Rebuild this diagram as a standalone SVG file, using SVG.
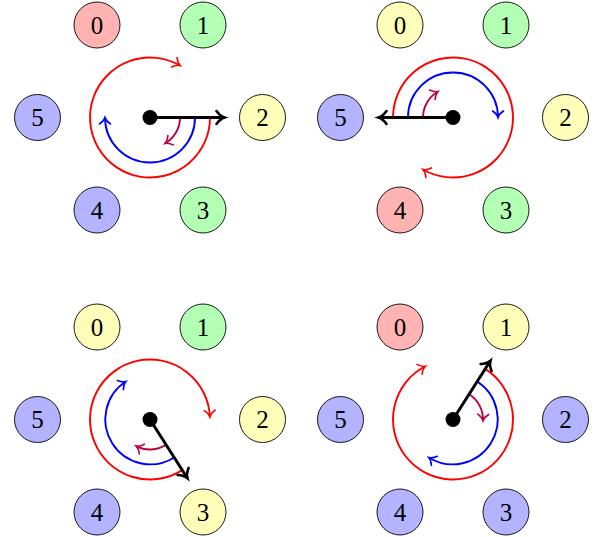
<svg xmlns="http://www.w3.org/2000/svg" width="597" height="537" viewBox="0 0 597 537">
<style>
.n circle{stroke:#000;stroke-width:0.9}
.n text{font-family:"Liberation Serif","DejaVu Serif",serif;font-size:25px;text-anchor:middle;fill:#000}
.R{fill:#ffb3b3}.G{fill:#b3ffb3}.B{fill:#b3b3ff}.Y{fill:#ffffb9}
.red{fill:none;stroke:#ff0000;stroke-width:1.9;marker-end:url(#mr)}
.blue{fill:none;stroke:#0000ff;stroke-width:1.9;marker-end:url(#mb)}
.pur{fill:none;stroke:#bf0040;stroke-width:1.9;marker-end:url(#mp)}
.arr{fill:none;stroke:#000;stroke-width:3;marker-end:url(#mk)}
.dot{fill:#000}
</style>
<defs>
<marker id="mr" markerUnits="userSpaceOnUse" orient="auto" overflow="visible" markerWidth="1" markerHeight="1"><path d="M-6.5,-5.5 C-4.5,-2.5 -2,-0.6 0,0 C-2,0.6 -4.5,2.5 -6.5,5.5" fill="none" stroke="#ff0000" stroke-width="1.6" stroke-linecap="round"/></marker>
<marker id="mb" markerUnits="userSpaceOnUse" orient="auto" overflow="visible" markerWidth="1" markerHeight="1"><path d="M-6.5,-5.5 C-4.5,-2.5 -2,-0.6 0,0 C-2,0.6 -4.5,2.5 -6.5,5.5" fill="none" stroke="#0000ff" stroke-width="1.6" stroke-linecap="round"/></marker>
<marker id="mp" markerUnits="userSpaceOnUse" orient="auto" overflow="visible" markerWidth="1" markerHeight="1"><path d="M-6.5,-5.5 C-4.5,-2.5 -2,-0.6 0,0 C-2,0.6 -4.5,2.5 -6.5,5.5" fill="none" stroke="#bf0040" stroke-width="1.6" stroke-linecap="round"/></marker>
<marker id="mk" markerUnits="userSpaceOnUse" orient="auto" overflow="visible" markerWidth="1" markerHeight="1"><path d="M-8,-6.5 C-5.5,-3 -2.5,-0.8 0,0 C-2.5,0.8 -5.5,3 -8,6.5" fill="none" stroke="#000" stroke-width="2.6" stroke-linecap="round"/></marker>
</defs>

<!-- Panel 1 -->
<g id="p1-n0" class="n"><circle class="R" cx="97" cy="25" r="23"/><text x="97" y="33.5">0</text></g>
<g id="p1-n1" class="n"><circle class="G" cx="203" cy="25" r="23"/><text x="203" y="33.5">1</text></g>
<g id="p1-n2" class="n"><circle class="Y" cx="262.5" cy="117.5" r="23"/><text x="262.5" y="126">2</text></g>
<g id="p1-n3" class="n"><circle class="G" cx="203" cy="210" r="23"/><text x="203" y="218.5">3</text></g>
<g id="p1-n4" class="n"><circle class="B" cx="97" cy="210" r="23"/><text x="97" y="218.5">4</text></g>
<g id="p1-n5" class="n"><circle class="B" cx="37.5" cy="117.5" r="23"/><text x="37.5" y="126">5</text></g>

<!-- Panel 2 -->
<g id="p2-n0" class="n"><circle class="Y" cx="400" cy="25" r="23"/><text x="400" y="33.5">0</text></g>
<g id="p2-n1" class="n"><circle class="G" cx="506" cy="25" r="23"/><text x="506" y="33.5">1</text></g>
<g id="p2-n2" class="n"><circle class="Y" cx="565.5" cy="117.5" r="23"/><text x="565.5" y="126">2</text></g>
<g id="p2-n3" class="n"><circle class="G" cx="506" cy="210" r="23"/><text x="506" y="218.5">3</text></g>
<g id="p2-n4" class="n"><circle class="R" cx="400" cy="210" r="23"/><text x="400" y="218.5">4</text></g>
<g id="p2-n5" class="n"><circle class="B" cx="340.5" cy="117.5" r="23"/><text x="340.5" y="126">5</text></g>

<!-- Panel 3 -->
<g id="p3-n0" class="n"><circle class="Y" cx="97" cy="327" r="23"/><text x="97" y="335.5">0</text></g>
<g id="p3-n1" class="n"><circle class="G" cx="203" cy="327" r="23"/><text x="203" y="335.5">1</text></g>
<g id="p3-n2" class="n"><circle class="Y" cx="262.5" cy="419.5" r="23"/><text x="262.5" y="428">2</text></g>
<g id="p3-n3" class="n"><circle class="Y" cx="203" cy="512" r="23"/><text x="203" y="520.5">3</text></g>
<g id="p3-n4" class="n"><circle class="B" cx="97" cy="512" r="23"/><text x="97" y="520.5">4</text></g>
<g id="p3-n5" class="n"><circle class="B" cx="37.5" cy="419.5" r="23"/><text x="37.5" y="428">5</text></g>

<!-- Panel 4 -->
<g id="p4-n0" class="n"><circle class="R" cx="400" cy="327" r="23"/><text x="400" y="335.5">0</text></g>
<g id="p4-n1" class="n"><circle class="Y" cx="506" cy="327" r="23"/><text x="506" y="335.5">1</text></g>
<g id="p4-n2" class="n"><circle class="B" cx="565.5" cy="419.5" r="23"/><text x="565.5" y="428">2</text></g>
<g id="p4-n3" class="n"><circle class="B" cx="506" cy="512" r="23"/><text x="506" y="520.5">3</text></g>
<g id="p4-n4" class="n"><circle class="B" cx="400" cy="512" r="23"/><text x="400" y="520.5">4</text></g>
<g id="p4-n5" class="n"><circle class="B" cx="340.5" cy="419.5" r="23"/><text x="340.5" y="428">5</text></g>

<g id="connectors">
<!-- Panel 1 -->
<path class="red" d="M210,117.5 A60,60 0 1 1 180,65.54"/>
<path class="blue" d="M195,117.5 A45,45 0 0 1 105,117.5"/>
<path class="pur" d="M180,117.5 A30,30 0 0 1 165,143.48"/>
<path class="arr" d="M150,117.5 L224.5,117.5"/>
<circle class="dot" cx="150" cy="117.5" r="7.5"/>
<!-- Panel 2 -->
<path class="red" d="M393,117.5 A60,60 0 1 1 423,169.46"/>
<path class="blue" d="M408,117.5 A45,45 0 0 1 498,117.5"/>
<path class="pur" d="M423,117.5 A30,30 0 0 1 438,91.52"/>
<path class="arr" d="M453,117.5 L378.5,117.5"/>
<circle class="dot" cx="453" cy="117.5" r="7.5"/>
<!-- Panel 3 -->
<path class="red" d="M182.24,470.10 A60,60 0 1 1 209.94,416.88"/>
<path class="blue" d="M174.18,457.45 A45,45 0 0 1 125.82,381.55"/>
<path class="pur" d="M166.12,444.80 A30,30 0 0 1 136.15,446.11"/>
<path class="arr" d="M150,419.5 L187.4,478.2"/>
<circle class="dot" cx="150" cy="419.5" r="7.5"/>
<!-- Panel 4 -->
<path class="red" d="M485.24,368.90 A60,60 0 1 1 425.30,366.28"/>
<path class="blue" d="M477.18,381.55 A45,45 0 0 1 428.82,457.45"/>
<path class="pur" d="M469.12,394.20 A30,30 0 0 1 482.97,420.81"/>
<path class="arr" d="M453,419.5 L490.4,360.8"/>
<circle class="dot" cx="453" cy="419.5" r="7.5"/>
</g>
</svg>
